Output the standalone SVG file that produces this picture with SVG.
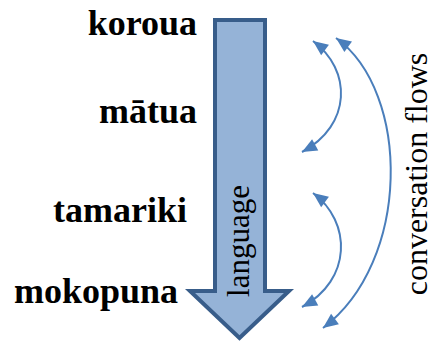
<svg xmlns="http://www.w3.org/2000/svg" width="431" height="345" viewBox="0 0 431 345">
<style>
.flow{fill:none;stroke:#4A7EBB;stroke-width:2}
</style>
<defs>
<marker id="ah" markerUnits="userSpaceOnUse" markerWidth="16" markerHeight="14" refX="15" refY="6.5" orient="auto-start-reverse" overflow="visible">
<path d="M0,0 L15,6.5 L0,13 z" fill="#4A7EBB"/>
</marker>
</defs>
<rect width="431" height="345" fill="#fff"/>
<g id="language-arrow">
<path d="M215,20 L265,20 L265,291 L289,291 L239.5,338 L190,291 L215,291 Z" fill="#95B3D7" stroke="#385D8A" stroke-width="4" stroke-linejoin="miter"/>
<text style="font-family:'Liberation Serif',serif;font-size:31px;text-anchor:middle" fill="#000" transform="translate(249,241) rotate(-90)">language</text>
</g>
<g id="koroua"><text style="font-family:'Liberation Serif',serif;font-size:36px;font-weight:bold;text-anchor:end" x="197" y="35">koroua</text></g>
<g id="matua"><text style="font-family:'Liberation Serif',serif;font-size:36px;font-weight:bold;text-anchor:end" x="197" y="123">mātua</text></g>
<g id="tamariki"><text style="font-family:'Liberation Serif',serif;font-size:36px;font-weight:bold;text-anchor:end" x="187" y="222">tamariki</text></g>
<g id="mokopuna"><text style="font-family:'Liberation Serif',serif;font-size:36px;font-weight:bold;text-anchor:end" x="178" y="303">mokopuna</text></g>
<g id="connectors">
<path class="flow" d="M313,41 C352,70 352,125 302,152" marker-start="url(#ah)" marker-end="url(#ah)"/>
<path class="flow" d="M313,193 C352,222 352,280 302,307" marker-start="url(#ah)" marker-end="url(#ah)"/>
<path class="flow" d="M336,38 C411,92 411,262 323,328" marker-start="url(#ah)" marker-end="url(#ah)"/>
</g>
<g id="conversation-label">
<text style="font-family:'Liberation Serif',serif;font-size:32px;text-anchor:middle" transform="translate(427,174) rotate(-90)">conversation flows</text>
</g>
</svg>
